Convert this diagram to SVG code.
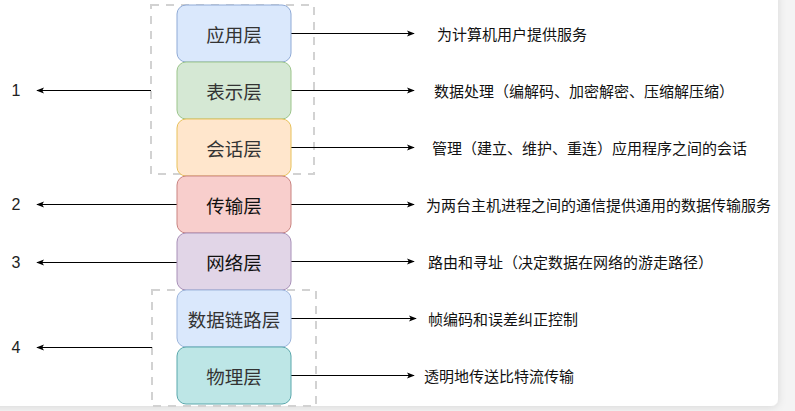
<svg xmlns="http://www.w3.org/2000/svg" width="795" height="411" viewBox="0 0 795 411">
  <defs>
    <marker id="arr" viewBox="0 0 10 10" refX="9" refY="5" markerWidth="8" markerHeight="8" markerUnits="userSpaceOnUse" orient="auto">
      <path d="M0,1 L10,5 L0,9 L2.5,5 Z" fill="#000"/>
    </marker>
    <filter id="shadow" x="-5%" y="-5%" width="110%" height="110%">
      <feDropShadow dx="0" dy="1" stdDeviation="4" flood-color="#000" flood-opacity="0.12"/>
    </filter>
    <style>
      .layer { stroke-width: 1; }
      .lt { font-family: "Noto Sans CJK SC", "Noto Sans", sans-serif; font-size: 18.5px; fill: #333; text-anchor: middle; dominant-baseline: central; }
      .desc { font-family: "Noto Sans CJK SC", "Noto Sans", sans-serif; font-size: 15px; fill: #111; dominant-baseline: central; }
      .num { font-family: "Liberation Sans", Arial, sans-serif; font-size: 16px; fill: #222; text-anchor: middle; dominant-baseline: central; }
      .grp { fill: none; stroke: #d2d2d2; stroke-width: 2; stroke-dasharray: 8 7; }
      .conn { stroke: #000; stroke-width: 1; fill: none; marker-end: url(#arr); }
    </style>
  </defs>

  <rect x="0" y="0" width="795" height="411" fill="#f4f4f4"/>
  <rect x="-10" y="-10" width="788" height="416" rx="7" fill="#ffffff" filter="url(#shadow)"/>

  <g id="groups">
    <rect id="group-top" class="grp" x="151" y="5" width="163" height="169"/>
    <rect id="group-bottom" class="grp" x="152" y="290" width="164" height="116"/>
  </g>

  <g id="connectors">
    <line class="conn" x1="151" y1="90.5" x2="37" y2="90.5"/>
    <line class="conn" x1="177" y1="204.5" x2="37" y2="204.5"/>
    <line class="conn" x1="177" y1="262.5" x2="37" y2="262.5"/>
    <line class="conn" x1="152" y1="347.5" x2="37" y2="347.5"/>

    <line class="conn" x1="291" y1="33.5" x2="414" y2="33.5"/>
    <line class="conn" x1="291" y1="90.5" x2="414" y2="90.5"/>
    <line class="conn" x1="291" y1="147.5" x2="414" y2="147.5"/>
    <line class="conn" x1="291" y1="204.5" x2="414" y2="204.5"/>
    <line class="conn" x1="291" y1="261.5" x2="414" y2="261.5"/>
    <line class="conn" x1="291" y1="318.5" x2="416" y2="318.5"/>
    <line class="conn" x1="291" y1="375.5" x2="414" y2="375.5"/>
  </g>

  <g id="layer-application">
    <rect class="layer" x="177" y="5" width="114" height="57" rx="9" fill="#dae8fc" stroke="#8faad6"/>
    <text class="lt" x="234" y="33.5">应用层</text>
  </g>
  <g id="layer-presentation">
    <rect class="layer" x="177" y="62" width="114" height="57" rx="9" fill="#d5e8d4" stroke="#9cc58b"/>
    <text class="lt" x="234" y="90.5">表示层</text>
  </g>
  <g id="layer-session">
    <rect class="layer" x="177" y="119" width="114" height="57" rx="9" fill="#ffe6cc" stroke="#e8c15a"/>
    <text class="lt" x="234" y="147.5">会话层</text>
  </g>
  <g id="layer-transport">
    <rect class="layer" x="177" y="176" width="114" height="57" rx="9" fill="#f8cecc" stroke="#c98380"/>
    <text class="lt" x="234" y="204.5" style="fill:#111">传输层</text>
  </g>
  <g id="layer-network">
    <rect class="layer" x="177" y="233" width="114" height="57" rx="9" fill="#e1d5e7" stroke="#a890b8"/>
    <text class="lt" x="234" y="261.5" style="fill:#111">网络层</text>
  </g>
  <g id="layer-datalink">
    <rect class="layer" x="177" y="290" width="114" height="57" rx="9" fill="#dae8fc" stroke="#9db5dc"/>
    <text class="lt" x="234" y="318.5">数据链路层</text>
  </g>
  <g id="layer-physical">
    <rect class="layer" x="177" y="347" width="114" height="57" rx="9" fill="#bde6e6" stroke="#5aa8ac"/>
    <text class="lt" x="234" y="375.5">物理层</text>
  </g>

  <g id="numbers">
    <text class="num" x="16" y="90">1</text>
    <text class="num" x="16" y="204">2</text>
    <text class="num" x="16" y="262">3</text>
    <text class="num" x="16" y="347">4</text>
  </g>

  <g id="descriptions">
    <text class="desc" x="437" y="33.5">为计算机用户提供服务</text>
    <text class="desc" x="434" y="90.5">数据处理（编解码、加密解密、压缩解压缩）</text>
    <text class="desc" x="432" y="147.5">管理（建立、维护、重连）应用程序之间的会话</text>
    <text class="desc" x="426" y="204.5">为两台主机进程之间的通信提供通用的数据传输服务</text>
    <text class="desc" x="428" y="261.5">路由和寻址（决定数据在网络的游走路径）</text>
    <text class="desc" x="428" y="318.5">帧编码和误差纠正控制</text>
    <text class="desc" x="424" y="375.5">透明地传送比特流传输</text>
  </g>
</svg>
